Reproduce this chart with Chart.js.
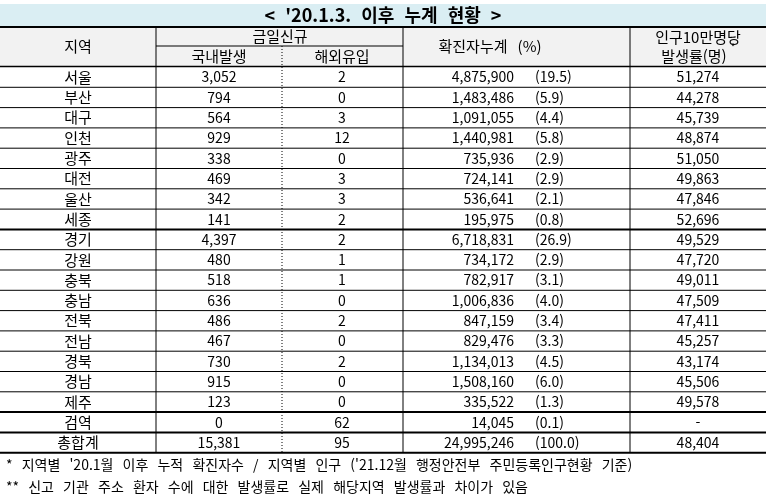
<!DOCTYPE html>
<html lang="ko">
<head>
<meta charset="UTF-8">
<title>'20.1.3. 이후 누계 현황</title>
<script src="https://cdn.jsdelivr.net/npm/chart.js@4"></script>
<style>body{margin:0;background:#fff}</style>
</head>
<body>
<canvas id="theTable" width="766" height="496"></canvas>
<script>
    var regions = ["서울","부산","대구","인천","광주","대전","울산","세종","경기","강원","충북","충남","전북","전남","경북","경남","제주","검역","총합계"];
    var domestic = ["3,052","794","564","929","338","469","342","141","4,397","480","518","636","486","467","730","915","123","0","15,381"];
    var imported = ["2","0","3","12","0","3","3","2","2","1","1","0","2","0","2","0","0","62","95"];
    var cumulative = ["4,875,900","1,483,486","1,091,055","1,440,981","735,936","724,141","536,641","195,975","6,718,831","734,172","782,917","1,006,836","847,159","829,476","1,134,013","1,508,160","335,522","14,045","24,995,246"];
    var percent = ["(19.5)","(5.9)","(4.4)","(5.8)","(2.9)","(2.9)","(2.1)","(0.8)","(26.9)","(2.9)","(3.1)","(4.0)","(3.4)","(3.3)","(4.5)","(6.0)","(1.3)","(0.1)","(100.0)"];
    var rate = ["51,274","44,278","45,739","48,874","51,050","49,863","47,846","52,696","49,529","47,720","49,011","47,509","47,411","45,257","43,174","45,506","49,578","-","48,404"];
    var title = "< '20.1.3. 이후 누계 현황 >";
    var notes = ["* 지역별 '20.1월 이후 누적 확진자수 / 지역별 인구 ('21.12월 행정안전부 주민등록인구현황 기준)",
                 "** 신고 기관 주소 환자 수에 대한 발생률로 실제 해당지역 발생률과 차이가 있음"];
    //
    var colX = [0, 156, 282, 403, 630, 766];
    var rowTop = 67, rowH = 20.3;
    var KR = '"Noto Sans CJK KR", sans-serif';
    //
    var tablePlugin = {
        id: "tablePlugin",
        afterDraw: function(chart){
            var c = chart.ctx, sx = chart.scales.x, sy = chart.scales.y;
            var X = function(v){ return sx.getPixelForValue(v); };
            var Y = function(v){ return sy.getPixelForValue(v); };
            function line(x1, y1, x2, y2, w, dash){
                c.save(); c.strokeStyle = "#000"; c.lineWidth = w || 1;
                if (dash) c.setLineDash([1, 2]);
                c.beginPath(); c.moveTo(X(x1), Y(y1)); c.lineTo(X(x2), Y(y2)); c.stroke(); c.restore();
            }
            function text(s, x, y, align, size, bold, wordSp){
                c.save(); c.fillStyle = "#000"; c.textBaseline = "middle"; c.textAlign = align || "center";
                c.font = (bold ? "bold " : "") + (size || 14) + "px " + KR;
                if (wordSp) c.wordSpacing = wordSp;
                c.fillText(s, X(x), Y(y)); c.restore();
            }
            // title band
            c.fillStyle = "#daeef3"; c.fillRect(X(0), Y(4), X(766) - X(0), Y(26) - Y(4));
            text(title, 383, 15, "center", 18, true, "6px");
            // header band
            c.fillStyle = "#f2f2f2"; c.fillRect(X(0), Y(27), X(766) - X(0), Y(66) - Y(27));
            text("지역", 78, 46, "center", 15);
            text("금일신규", 280, 36, "center", 15);
            text("국내발생", 219, 56, "center", 15);
            text("해외유입", 342, 56, "center", 15);
            text("확진자누계   (%)", 490, 46, "center", 15);
            text("인구10만명당", 698, 37, "center", 15);
            text("발생률(명)", 694, 56, "center", 15);
            text("*", 733, 47, "center", 10);
            line(0, 27, 766, 27, 2);
            line(156, 46, 403, 46, 1);
            line(0, 66.5, 766, 66.5, 1.5);
            // rows
            for (var i = 0; i < regions.length; i++) {
                var yc = rowTop + rowH * (i + 0.5);
                text(regions[i], 78, yc, "center", 15);
                text(domestic[i], 219, yc, "center", 14);
                text(imported[i], 342, yc, "center", 14);
                text(cumulative[i], 514, yc, "right", 14);
                text(percent[i], 535, yc, "left", 14);
                text(rate[i], 698, yc, "center", 14);
                var yb = rowTop + rowH * (i + 1);
                var thick = (i === 7 || i === 16 || i === 17 || i === regions.length - 1);
                line(0, yb, 766, yb, thick ? 2 : 1);
            }
            var yEnd = rowTop + rowH * regions.length;
            // vertical lines
            line(156, 27, 156, yEnd, 1);
            line(282, 46, 282, yEnd, 1, true);
            line(403, 27, 403, yEnd, 1);
            line(630, 27, 630, yEnd, 1);
            // notes
            text(notes[0], 6, 465, "left", 14, false, "6px");
            text(notes[1], 6, 487, "left", 14, false, "6px");
        }
    };
    //
    var theTable = new Chart("theTable", {
        type: "scatter",
        data: { datasets: [{ data: [], pointRadius: 0 }] },
        options: {
            responsive: false,
            animation: false,
            layout: { padding: 0 },
            plugins: { legend: { display: false }, tooltip: { enabled: false } },
            scales: {
                x: { type: "linear", min: 0, max: 766, display: false },
                y: { type: "linear", min: 0, max: 496, reverse: true, display: false }
            }
        },
        plugins: [tablePlugin]
    });
</script>
</body>
</html>
